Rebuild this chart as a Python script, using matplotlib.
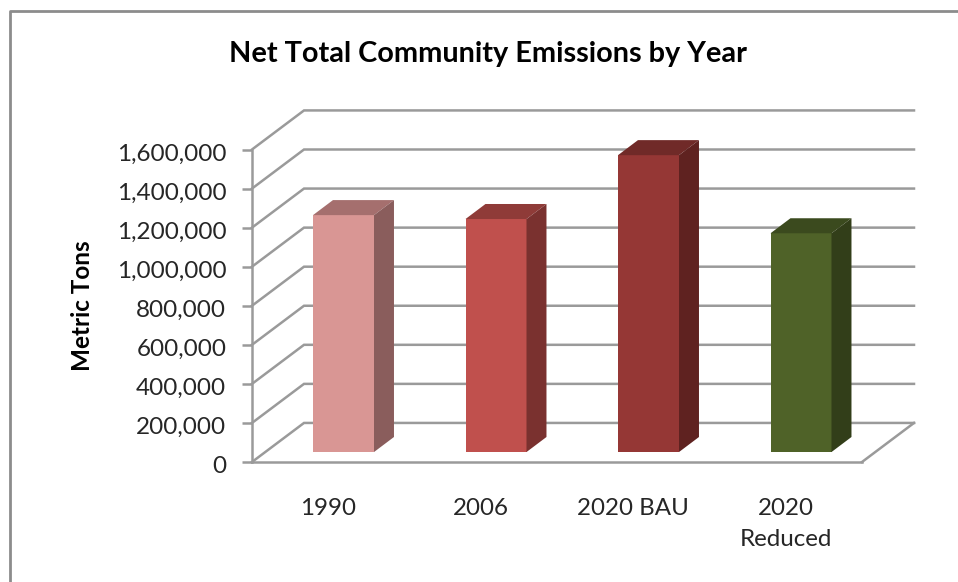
import matplotlib.pyplot as plt
from matplotlib.patches import Polygon
from matplotlib.transforms import ScaledTranslation

plt.rcParams["font.family"] = ["Lato", "DejaVu Sans"]

categories = ["1990", "2006", "2020 BAU", "2020\nReduced"]
values = [1213000, 1193000, 1520000, 1120000]
y_ticks = [0, 200000, 400000, 600000, 800000, 1000000, 1200000, 1400000, 1600000]

front_colors = ["#D99694", "#C0504D", "#953735", "#4F6228"]
top_colors = ["#A56F6E", "#8F3B38", "#702A28", "#3B4A1E"]
side_colors = ["#8A5D5C", "#7A312F", "#5F2220", "#323E19"]

W, H = 958, 582
GREY = "#9A9A9A"

# perspective offsets in data units
wall_dx, wall_dy = 0.341, 200000
base_dx, base_dy = 0.10, 51000
bar_dx, bar_dy = 0.131, 77000
bar_w = 0.40

fig = plt.figure(figsize=(W / 100, H / 100), dpi=100)
ax = fig.add_axes([252 / W, 1 - 462 / H, 610 / W, 312.5 / H])
ax.set_xlim(0, 4)
ax.set_ylim(0, 1600000)

# outer chart frame, runs off the right and bottom of the picture
fig.add_artist(plt.Line2D([9.5 / W, 9.5 / W, 1], [0, 1 - 10.5 / H, 1 - 10.5 / H],
                          color="#8C8C8C", lw=2))

# walls
for v in y_ticks:
    ax.plot([0, wall_dx, 4 + wall_dx], [v, v + wall_dy, v + wall_dy],
            color=GREY, lw=1.8, clip_on=False, zorder=1, solid_joinstyle="miter")
ax.plot([4, 4 + wall_dx], [0, wall_dy], color=GREY, lw=1.8, clip_on=False, zorder=1)

# bars
for i, val in enumerate(values):
    left = i + 0.5 - bar_w / 2 + base_dx
    right = left + bar_w
    ax.bar(left, val, width=bar_w, bottom=base_dy, align="edge",
           color=front_colors[i], clip_on=False, zorder=3)
    top = base_dy + val
    ax.add_patch(Polygon([(left, top), (right, top), (right + bar_dx, top + bar_dy),
                          (left + bar_dx, top + bar_dy)],
                         color=top_colors[i], lw=0, clip_on=False, zorder=3))
    ax.add_patch(Polygon([(right, base_dy), (right + bar_dx, base_dy + bar_dy),
                          (right + bar_dx, top + bar_dy), (right, top)],
                         color=side_colors[i], lw=0, clip_on=False, zorder=3))

for s in ["top", "right"]:
    ax.spines[s].set_visible(False)
for s in ["left", "bottom"]:
    ax.spines[s].set_color(GREY)
    ax.spines[s].set_linewidth(1.8)
ax.patch.set_alpha(0)

ax.set_yticks(y_ticks)
ax.set_yticklabels([f"{v:,}" for v in y_ticks])
ax.tick_params(axis="y", length=7, width=1.8, color=GREY, pad=11.5,
               labelsize=17.5, labelcolor="#262626")
# labels sit a little under their ticks in the original
shift = ScaledTranslation(0, -2 / 72, fig.dpi_scale_trans)
for lab in ax.get_yticklabels():
    lab.set_transform(lab.get_transform() + shift)

ax.set_xticks([i + 0.5 for i in range(len(categories))])
ax.set_xticklabels(categories, linespacing=1.6)
ax.tick_params(axis="x", length=0, pad=26, labelsize=17.4, labelcolor="#262626")

fig.text(488 / W, 1 - 54 / H, "Net Total Community Emissions by Year",
         ha="center", va="center", fontsize=20.8, fontweight="bold", color="black")
fig.text(82 / W, 1 - 306 / H, "Metric Tons", rotation=90, ha="center", va="center",
         fontsize=17.5, fontweight="bold", color="black")

fig.savefig("out.png", dpi=100)
